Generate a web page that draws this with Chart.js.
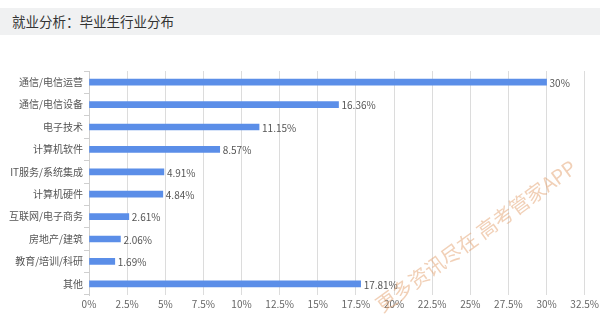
<!DOCTYPE html>
<html>
<head>
<meta charset="utf-8">
<script src="https://cdn.jsdelivr.net/npm/chart.js@4/dist/chart.umd.min.js"></script>
<style>
    html, body { margin: 0; padding: 0; background: #fff; }
    #wrap { position: relative; width: 600px; height: 324px; overflow: hidden; }
    #titleBar {
        position: absolute; left: 0; top: 8px; width: 600px; height: 27px;
        background: #f0f1f2; color: #333;
        font: 13.5px "Noto Sans CJK SC", sans-serif; line-height: 27px;
        padding-left: 12px; box-sizing: border-box;
    }
    #chartBox { position: absolute; left: 0; top: 0; width: 602px; height: 324px; }
</style>
</head>
<body>
<div id="wrap">
    <div id="titleBar">就业分析：毕业生行业分布</div>
    <div id="chartBox"><canvas id="industryChart"></canvas></div>
</div>
<script>
// Industries and share of graduates (%)
const industries = ['通信/电信运营', '通信/电信设备', '电子技术', '计算机软件', 'IT服务/系统集成',
    '计算机硬件', '互联网/电子商务', '房地产/建筑', '教育/培训/科研', '其他'];
const shares = [30, 16.36, 11.15, 8.57, 4.91, 4.84, 2.61, 2.06, 1.69, 17.81];
const shareLabels = ['30%', '16.36%', '11.15%', '8.57%', '4.91%', '4.84%', '2.61%', '2.06%', '1.69%', '17.81%'];
const axisMax = 32.5;
const axisStep = 2.5;

const fontFamily = '"Noto Sans CJK SC", sans-serif';

// writes the percentage to the right of each bar
const valueLabels = {
    id: 'valueLabels',
    afterDatasetsDraw(chart) {
        const ctx = chart.ctx;
        const meta = chart.getDatasetMeta(0);
        ctx.save();
        ctx.font = '10px ' + fontFamily;
        ctx.fillStyle = '#555';
        ctx.textAlign = 'left';
        ctx.textBaseline = 'middle';
        meta.data.forEach((bar, i) => {
            ctx.fillText(shareLabels[i], bar.x + 3, bar.y + 1);
        });
        ctx.restore();
    }
};

// faint diagonal stamp across the lower right
const stamp = {
    id: 'stamp',
    afterDraw(chart) {
        const ctx = chart.ctx;
        ctx.save();
        ctx.translate(476, 236);
        ctx.rotate(-36 * Math.PI / 180);
        ctx.font = '20px ' + fontFamily;
        ctx.fillStyle = 'rgba(225, 150, 95, 0.45)';
        ctx.textAlign = 'center';
        ctx.textBaseline = 'middle';
        ctx.fillText('更多资讯尽在 高考管家APP', 0, 0);
        ctx.restore();
    }
};

new Chart(document.getElementById('industryChart'), {
    type: 'bar',
    data: {
        labels: industries,
        datasets: [{
            data: shares,
            backgroundColor: '#5b8ee8',
            barThickness: 6
        }]
    },
    options: {
        indexAxis: 'y',
        responsive: true,
        maintainAspectRatio: false,
        animation: false,
        layout: { padding: { top: 71, right: 13, left: 0, bottom: 0 } },
        plugins: {
            legend: { display: false },
            tooltip: { enabled: false }
        },
        scales: {
            x: {
                min: 0,
                max: axisMax,
                afterFit(scale) { scale.height = 29; },
                ticks: {
                    stepSize: axisStep,
                    maxRotation: 0,
                    autoSkip: false,
                    padding: 3,
                    color: '#666',
                    font: { size: 10, family: fontFamily },
                    callback: value => value + '%'
                },
                grid: { color: '#dcdcdc', drawTicks: false },
                border: { display: false }
            },
            y: {
                afterFit(scale) { scale.width = 89; },
                ticks: {
                    padding: 1,
                    color: '#555',
                    font: { size: 10, family: fontFamily }
                },
                grid: { drawOnChartArea: false, drawTicks: true, tickLength: 5, color: '#cfcfcf' },
                border: { display: true, color: '#cfcfcf' }
            }
        }
    },
    plugins: [valueLabels, stamp]
});
</script>
</body>
</html>
